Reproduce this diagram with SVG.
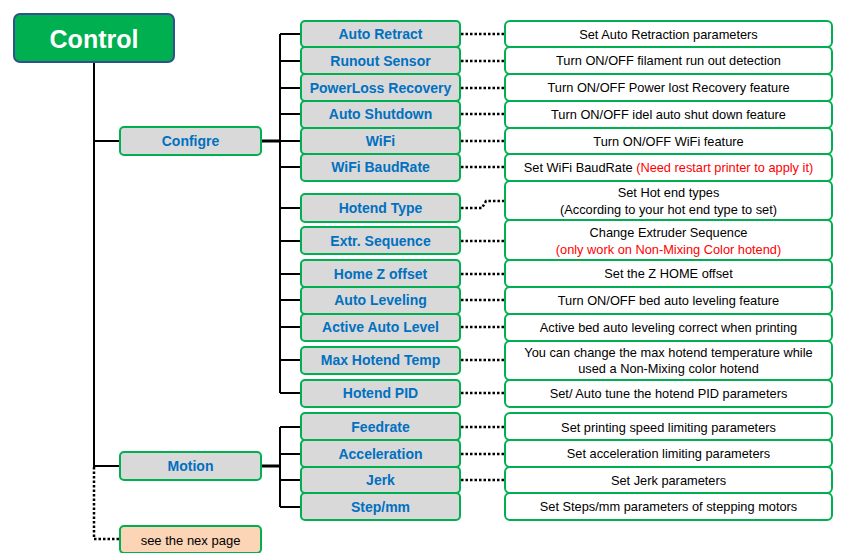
<svg xmlns="http://www.w3.org/2000/svg" width="842" height="553" viewBox="0 0 842 553">
<style>
.item rect{fill:#D9D9D9;stroke:#00B050;stroke-width:2}
.item text{font-family:"Liberation Sans",Arial,sans-serif;font-weight:bold;font-size:14px;fill:#0070C0;text-anchor:middle}
.desc rect{fill:#FFFFFF;stroke:#00B050;stroke-width:2}
.desc text{font-family:"Liberation Sans",Arial,sans-serif;font-size:12.8px;fill:#000;text-anchor:middle}
.red{fill:#FF0000}
.bus{stroke:#000;stroke-width:2;fill:none}
.thick{stroke:#000;stroke-width:3;fill:none}
.dot{stroke:#000;stroke-width:2.5;fill:none;stroke-dasharray:2.5 2}
</style>
<rect width="842" height="553" fill="#FFFFFF"/>
<g id="connectors">
  <path class="bus" d="M94,62 V466 H120"/>
  <path class="dot" d="M94,467 V539 H120"/>
  <path class="bus" d="M94,141 H120"/>
  <path class="thick" d="M261,141 H280"/>
  <path class="bus" d="M280,34 V393"/>
  <path class="bus" d="M280,34 H301 M280,61 H301 M280,88 H301 M280,114 H301 M280,141 H301 M280,167 H301 M280,208 H301 M280,241 H301 M280,274 H301 M280,300 H301 M280,327 H301 M280,360 H301 M280,393 H301"/>
  <path class="thick" d="M261,466 H280"/>
  <path class="bus" d="M280,427 V507"/>
  <path class="bus" d="M280,427 H301 M280,454 H301 M280,480 H301 M280,507 H301"/>
  <path class="dot" d="M461,34 H505 M461,61 H505 M461,88 H505 M461,114 H505 M461,141 H505 M461,167 H505 M461,241 H505 M461,274 H505 M461,300 H505 M461,327 H505 M461,360 H505 M461,393 H505 M461,427 H505 M461,454 H505 M461,480 H505"/>
  <path class="dot" d="M461,208 H482 L486,201 H505"/>
</g>
<g id="control">
  <rect x="14" y="14" width="160" height="48" rx="6" fill="#00B050" stroke="#2F528F" stroke-width="2"/>
  <text x="94" y="48" font-family="Liberation Sans,Arial,sans-serif" font-weight="bold" font-size="25" fill="#FFFFFF" text-anchor="middle">Control</text>
</g>
<g id="configre" class="item"><rect x="120" y="127" width="141" height="28" rx="4"/><text x="190.5" y="146">Configre</text></g>
<g id="motion" class="item"><rect x="120" y="452" width="141" height="28" rx="4"/><text x="190.5" y="471">Motion</text></g>
<g id="next">
  <rect x="120" y="526" width="141" height="27" rx="4" fill="#FBD5B5" stroke="#00B050" stroke-width="2"/>
  <text x="190.5" y="545" font-family="Liberation Sans,Arial,sans-serif" font-size="13" fill="#000" text-anchor="middle">see the nex page</text>
</g>
<g id="auto-retract" class="item"><rect x="301" y="21" width="159" height="26" rx="4"/><text x="380.5" y="39">Auto Retract</text></g>
<g id="runout-sensor" class="item"><rect x="301" y="47" width="159" height="27" rx="4"/><text x="380.5" y="66">Runout Sensor</text></g>
<g id="powerloss" class="item"><rect x="301" y="74" width="159" height="27" rx="4"/><text x="380.5" y="93">PowerLoss Recovery</text></g>
<g id="auto-shutdown" class="item"><rect x="301" y="101" width="159" height="27" rx="4"/><text x="380.5" y="119">Auto Shutdown</text></g>
<g id="wifi" class="item"><rect x="301" y="128" width="159" height="26" rx="4"/><text x="380.5" y="146">WiFi</text></g>
<g id="wifi-baudrate" class="item"><rect x="301" y="154" width="159" height="27" rx="4"/><text x="380.5" y="172">WiFi BaudRate</text></g>
<g id="hotend-type" class="item"><rect x="301" y="194" width="159" height="28" rx="4"/><text x="380.5" y="213">Hotend Type</text></g>
<g id="extr-sequence" class="item"><rect x="301" y="227" width="159" height="27" rx="4"/><text x="380.5" y="246">Extr. Sequence</text></g>
<g id="home-z-offset" class="item"><rect x="301" y="260" width="159" height="27" rx="4"/><text x="380.5" y="279">Home Z offset</text></g>
<g id="auto-leveling" class="item"><rect x="301" y="287" width="159" height="27" rx="4"/><text x="380.5" y="305">Auto Leveling</text></g>
<g id="active-auto-level" class="item"><rect x="301" y="314" width="159" height="27" rx="4"/><text x="380.5" y="332">Active Auto Level</text></g>
<g id="max-hotend-temp" class="item"><rect x="301" y="347" width="159" height="27" rx="4"/><text x="380.5" y="365">Max Hotend Temp</text></g>
<g id="hotend-pid" class="item"><rect x="301" y="380" width="159" height="27" rx="4"/><text x="380.5" y="398">Hotend PID</text></g>
<g id="feedrate" class="item"><rect x="301" y="413" width="159" height="27" rx="4"/><text x="380.5" y="432">Feedrate</text></g>
<g id="acceleration" class="item"><rect x="301" y="440" width="159" height="27" rx="4"/><text x="380.5" y="459">Acceleration</text></g>
<g id="jerk" class="item"><rect x="301" y="467" width="159" height="26" rx="4"/><text x="380.5" y="485">Jerk</text></g>
<g id="step-mm" class="item"><rect x="301" y="493" width="159" height="27" rx="4"/><text x="380.5" y="512">Step/mm</text></g>

<g id="d-auto-retract" class="desc"><rect x="505" y="21" width="327" height="26" rx="5"/><text x="668.5" y="38.5">Set Auto Retraction parameters</text></g>
<g id="d-runout" class="desc"><rect x="505" y="47" width="327" height="27" rx="5"/><text x="668.5" y="65">Turn ON/OFF filament run out detection</text></g>
<g id="d-powerloss" class="desc"><rect x="505" y="74" width="327" height="27" rx="5"/><text x="668.5" y="92">Turn ON/OFF Power lost Recovery feature</text></g>
<g id="d-shutdown" class="desc"><rect x="505" y="101" width="327" height="27" rx="5"/><text x="668.5" y="118.5">Turn ON/OFF idel auto shut down feature</text></g>
<g id="d-wifi" class="desc"><rect x="505" y="128" width="327" height="26" rx="5"/><text x="668.5" y="145.5">Turn ON/OFF WiFi feature</text></g>
<g id="d-baudrate" class="desc"><rect x="505" y="154" width="327" height="27" rx="5"/><text x="668.5" y="172">Set WiFi BaudRate <tspan class="red">(Need restart printer to apply it)</tspan></text></g>
<g id="d-hotend-type" class="desc"><rect x="505" y="181" width="327" height="39" rx="5"/><text x="668.5" y="197">Set Hot end types</text><text x="668.5" y="214">(According to your hot end type to set)</text></g>
<g id="d-extr" class="desc"><rect x="505" y="220" width="327" height="40" rx="5"/><text x="668.5" y="237">Change Extruder Sequence</text><text x="668.5" y="254"><tspan class="red">(only work on Non-Mixing Color hotend)</tspan></text></g>
<g id="d-homez" class="desc"><rect x="505" y="260" width="327" height="27" rx="5"/><text x="668.5" y="278">Set the Z HOME offset</text></g>
<g id="d-autolevel" class="desc"><rect x="505" y="287" width="327" height="27" rx="5"/><text x="668.5" y="304.5">Turn ON/OFF bed auto leveling feature</text></g>
<g id="d-activelevel" class="desc"><rect x="505" y="314" width="327" height="27" rx="5"/><text x="668.5" y="331.5">Active bed auto leveling correct when printing</text></g>
<g id="d-maxtemp" class="desc"><rect x="505" y="341" width="327" height="39" rx="5"/><text x="668.5" y="357">You can change the max hotend temperature while</text><text x="668.5" y="373">used a Non-Mixing color hotend</text></g>
<g id="d-pid" class="desc"><rect x="505" y="380" width="327" height="27" rx="5"/><text x="668.5" y="398">Set/ Auto tune the hotend PID parameters</text></g>
<g id="d-feedrate" class="desc"><rect x="505" y="413" width="327" height="27" rx="5"/><text x="668.5" y="431.5">Set printing speed limiting parameters</text></g>
<g id="d-accel" class="desc"><rect x="505" y="440" width="327" height="27" rx="5"/><text x="668.5" y="458">Set acceleration limiting parameters</text></g>
<g id="d-jerk" class="desc"><rect x="505" y="467" width="327" height="26" rx="5"/><text x="668.5" y="484.5">Set Jerk parameters</text></g>
<g id="d-stepmm" class="desc"><rect x="505" y="493" width="327" height="27" rx="5"/><text x="668.5" y="511">Set Steps/mm parameters of stepping motors</text></g>
</svg>
